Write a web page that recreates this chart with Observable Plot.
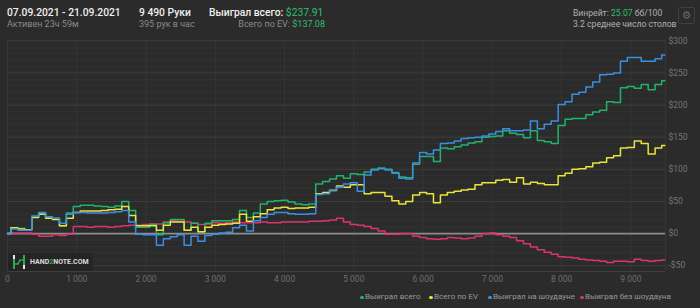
<!DOCTYPE html>
<html><head><meta charset="utf-8">
<script src="https://cdn.jsdelivr.net/npm/d3@7"></script>
<script src="https://cdn.jsdelivr.net/npm/@observablehq/plot@0.6"></script>
<style>
html,body{margin:0;padding:0;background:#2b2b2b;}
#wrap{position:relative;width:700px;height:308px;background:#2b2b2b;font-family:Roboto,"Noto Sans",sans-serif;overflow:hidden;}
.t{position:absolute;white-space:nowrap;line-height:1;}
#chart{position:absolute;left:0;top:36px;}
.lg{position:absolute;top:293px;font-size:8px;color:#9a9a9a;line-height:1;white-space:nowrap;}
.dot{position:absolute;left:-5px;top:2.5px;width:3.5px;height:3.5px;border-radius:50%;}
</style></head>
<body><div id="wrap">
<div class="t" style="left:7px;top:8px;font-size:10.3px;color:#f0f0f0;font-weight:500">07.09.2021 - 21.09.2021</div>
<div class="t" style="left:7px;top:20px;font-size:9px;color:#8a8a8a">Активен 23ч 59м</div>
<div class="t" style="left:139px;top:8px;font-size:10.3px;color:#f0f0f0;font-weight:500">9 490 Руки</div>
<div class="t" style="left:139px;top:20px;font-size:9px;color:#8a8a8a">395 рук в час</div>
<div class="t" style="left:209px;top:8px;font-size:10.3px;color:#f0f0f0;font-weight:500">Выиграл всего: <span style="color:#2fbf71;font-weight:400">$237.91</span></div>
<div class="t" style="right:375px;top:20px;font-size:9px;color:#8a8a8a">Всего по EV: <span style="color:#2fbf71">$137.08</span></div>
<div class="t" style="left:573px;top:9px;font-size:8.6px;color:#b0b0b0">Винрейт: <span style="color:#2fbf71">25.07</span> бб/100</div>
<div class="t" style="left:573px;top:20px;font-size:8.6px;color:#b0b0b0">3.2 среднее число столов</div>
<div class="t" style="left:678px;top:7px;width:15px;height:15px;border:1px solid #3f3f3f;border-radius:2px;color:#6a6a6a;font-size:11px;text-align:center;line-height:15px;font-family:'DejaVu Sans'">⚙</div>
<div id="chart"></div>
<div class="t" style="left:8px;top:253px;width:85px;height:18px;background:#242424;"></div>
<svg class="t" style="left:12px;top:255px" width="14" height="14" viewBox="0 0 14 14">
  <rect x="1" y="0" width="2" height="4" fill="#e8e8e8"/>
  <rect x="1" y="4" width="2" height="10" fill="#2fa84f"/>
  <rect x="11" y="0" width="2" height="10" fill="#2fa84f"/>
  <rect x="11" y="10" width="2" height="4" fill="#e8e8e8"/>
  <path d="M3 9 L6 9 L8 5 L11 5" stroke="#2fa84f" stroke-width="1.6" fill="none"/>
</svg>
<div class="t" style="left:30px;top:259px;font-size:7px;font-weight:700;color:#dcdcdc">HAND<span style="color:#2fa84f">2</span>NOTE.COM</div>
<div id="legend"></div>
</div>
<script>
const hands = [0,100,200,300,400,500,600,700,800,900,
 1000,1100,1200,1300,1400,1500,1600,1700,1800,1900,
 2000,2100,2200,2300,2400,2500,2600,2700,2800,2900,
 3000,3100,3200,3300,3400,3500,3600,3700,3800,3900,
 4000,4100,4200,4300,4400,4500,4600,4700,4800,4900,
 5000,5100,5200,5300,5400,5500,5600,5700,5800,5900,
 6000,6100,6200,6300,6400,6500,6600,6700,6800,6900,
 7000,7100,7200,7300,7400,7500,7600,7700,7800,7900,
 8000,8100,8200,8300,8400,8500,8600,8700,8800,8900,
 9000,9100,9200,9300,9400,9490];
const wonTotal = [0,9,8,6,27,32,25,24,12,32,
 42,44,44,43,42,41,43,50,36,10,
 10,14,-2,17,22,22,5,16,3,16,
 20,20,20,22,36,25,32,46,50,51,
 52,49,46,45,46,77,81,85,90,86,
 93,92,96,100,102,100,94,88,87,108,
 120,120,112,133,132,135,138,141,143,150,
 151,152,160,156,154,149,160,145,143,140,
 168,178,179,179,185,189,192,205,204,227,
 229,226,232,224,232,237.91];
const wonEV = [0,9,7,6,25,30,24,22,12,24,
 33,35,35,35,36,37,38,42,28,12,
 12,12,5,13,18,18,5,10,3,10,
 13,14,15,16,30,19,26,31,37,40,
 41,39,40,40,41,62,64,67,74,72,
 76,76,62,64,64,58,51,46,50,60,
 64,62,48,60,64,66,68,69,76,79,
 79,83,84,80,87,77,80,78,76,76,
 90,94,100,101,104,110,111,118,121,133,
 134,144,140,124,133,137.08];
const wonShowdown = [0,7,5,5,27,33,26,24,16,30,
 33,33,32,32,32,33,34,36,18,-1,
 -2,-2,-18,-8,-5,-2,-18,-4,-12,-3,
 -1,1,2,9,13,4,20,25,30,33,
 33,31,30,30,31,61,62,68,72,77,
 79,66,91,99,101,99,95,86,85,110,
 126,124,130,140,141,144,148,149,150,152,
 155,159,163,160,160,161,175,163,170,175,
 201,205,217,220,228,236,247,248,250,268,
 274,274,268,268,272,278];
const wonNonShowdown = [0,1,1,1,-1,-4,-4,-2,-3,-1,
 11,11,10,11,11,10,11,12,13,13,
 14,15,15,18,20,19,18,16,14,15,
 17,16,17,18,17,17,17,18,17,17,
 18,18,18,18,19,19,20,21,24,18,
 14,13,11,8,4,-1,-1,0,0,-4,
 -6,-8,-9,-8,-6,-7,-8,-7,-4,0,
 1,-2,-4,-6,-11,-16,-21,-25,-29,-32,
 -36,-37,-38,-40,-41,-42,-43,-45,-43,-43,
 -44,-40,-42,-43,-42,-41];

const seriesNames = ["Выиграл всего","Всего по EV","Выиграл на шоудауне","Выиграл без шоудауна"];
const seriesColors = ["#1fb46c","#e9e43c","#3a8fe3","#dc336c"];
const seriesValues = [wonTotal, wonEV, wonShowdown, wonNonShowdown];
const xTicks = [0,1000,2000,3000,4000,5000,6000,7000,8000,9000];
const yTicks = [-50,0,50,100,150,200,250,300];
const yMinor = [-40,-30,-20,-10,10,20,30,40,60,70,80,90,110,120,130,140,160,170,180,190,210,220,230,240,260,270,280,290];
const legendX = [365, 434, 493, 585];

const rows = [];
seriesNames.forEach((name, i) => {
  hands.forEach((h, j) => rows.push({series: name, hands: h, value: seriesValues[i][j]}));
});
const drawOrder = ["Выиграл без шоудауна","Выиграл всего","Всего по EV","Выиграл на шоудауне"];

const fmtHands = d => String(d).replace(/\B(?=(\d{3})+(?!\d))/g, " ");
const fmtUsd = d => d < 0 ? "-$" + (-d) : "$" + d;

const chart = Plot.plot({
  width: 700, height: 252,
  marginLeft: 7, marginRight: 35, marginTop: 3, marginBottom: 17,
  style: {background: "transparent", color: "#707070", fontFamily: "Roboto, sans-serif", fontSize: "8.5px", overflow: "visible"},
  x: {domain: [0, 9500], label: null},
  y: {domain: [-59, 302], label: null},
  color: {domain: seriesNames, range: seriesColors},
  marks: [
    Plot.ruleY(yMinor, {stroke: "#323232", strokeWidth: 1}),
    Plot.ruleY(yTicks, {stroke: "#3e3e3e", strokeWidth: 1}),
    Plot.ruleX(xTicks, {stroke: "#363636", strokeWidth: 1}),
    Plot.ruleY([-59], {stroke: "#3e3e3e"}),
    Plot.ruleX([9500], {stroke: "#363636"}),
    Plot.ruleY([0], {stroke: "#8c8c8c", strokeWidth: 1.6}),
    ...drawOrder.map(name => Plot.line(rows.filter(r => r.series === name), {
      x: "hands", y: "value", stroke: "series", strokeWidth: 1.5, curve: "step"
    })),
    Plot.axisX(xTicks, {tickSize: 0, tickPadding: 4, tickFormat: fmtHands, fill: "#6e6e6e"}),
    Plot.axisY(yTicks, {anchor: "right", tickSize: 0, tickPadding: 3, tickFormat: fmtUsd, fill: "#777"})
  ]
});
document.getElementById("chart").appendChild(chart);

const legend = document.getElementById("legend");
seriesNames.forEach((name, i) => {
  const el = document.createElement("div");
  el.className = "lg";
  el.style.left = legendX[i] + "px";
  el.innerHTML = `<span class="dot" style="background:${seriesColors[i]}"></span>${name}`;
  legend.appendChild(el);
});
</script>
</body></html>
